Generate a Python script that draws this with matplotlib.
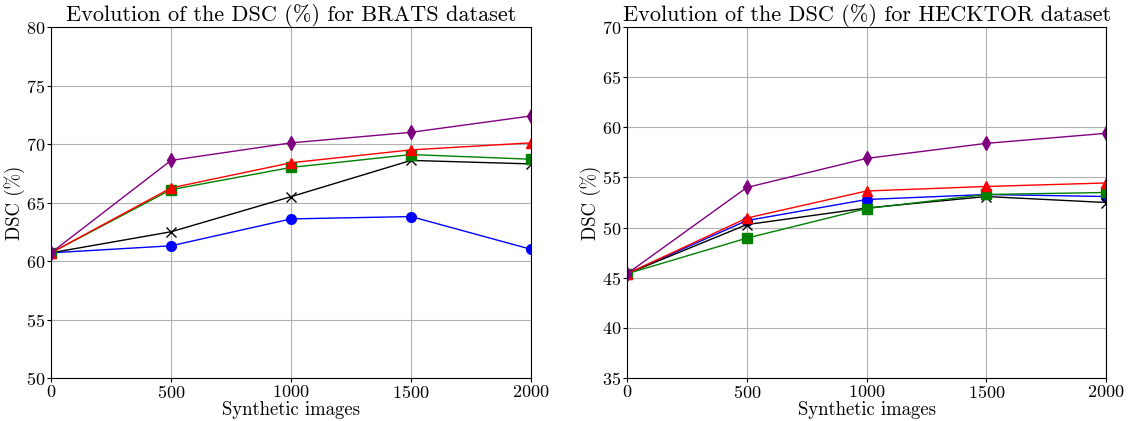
import matplotlib
matplotlib.use("Agg")
import matplotlib.pyplot as plt

plt.rcParams['font.family'] = 'serif'
plt.rcParams['font.serif'] = ['cmr10']
plt.rcParams['mathtext.fontset'] = 'cm'
plt.rcParams['axes.formatter.use_mathtext'] = True

x_vals = [0, 500, 1000, 1500, 2000]

brats_blue = [60.7, 61.3, 63.6, 63.8, 61.0]
brats_black = [60.7, 62.5, 65.5, 68.6, 68.3]
brats_green = [60.7, 66.1, 68.0, 69.1, 68.7]
brats_red = [60.7, 66.25, 68.4, 69.5, 70.1]
brats_purple = [60.7, 68.6, 70.1, 71.0, 72.4]

heck_blue = [45.4, 50.7, 52.8, 53.3, 53.1]
heck_black = [45.4, 50.3, 51.95, 53.1, 52.5]
heck_green = [45.4, 48.95, 51.9, 53.3, 53.5]
heck_red = [45.4, 50.95, 53.65, 54.1, 54.45]
heck_purple = [45.4, 54.0, 56.9, 58.4, 59.4]

titles = ["Evolution of the DSC (%) for BRATS dataset",
          "Evolution of the DSC (%) for HECKTOR dataset"]
ylims = [(50, 80), (35, 70)]

fig = plt.figure(figsize=(11.29, 4.21), dpi=100)
ax1 = fig.add_axes([0.0452, 0.1021, 0.4252, 0.8337])
ax2 = fig.add_axes([0.5554, 0.1021, 0.4243, 0.8337])

datasets = [
    (brats_blue, brats_black, brats_green, brats_red, brats_purple),
    (heck_blue, heck_black, heck_green, heck_red, heck_purple),
]

for ax, data, title, yl in zip([ax1, ax2], datasets, titles, ylims):
    blue, black, green, red, purple = data
    ax.plot(x_vals, blue, color='blue', marker='o', markersize=7, lw=1)
    ax.plot(x_vals, black, color='black', marker='x', markersize=7, lw=1)
    ax.plot(x_vals, green, color='green', marker='s', markersize=7, lw=1)
    ax.plot(x_vals, red, color='red', marker='^', markersize=7, lw=1)
    ax.plot(x_vals, purple, color='purple', marker='d', markersize=7.5, lw=1)
    ax.set_xlim(0, 2000)
    ax.set_ylim(*yl)
    ax.set_xticks(x_vals)
    ax.set_yticks(range(yl[0], yl[1] + 1, 5))
    ax.grid(True, color='#b0b0b0', lw=0.8)
    ax.set_axisbelow(True)
    ax.set_title(title, fontsize=16, pad=3)
    ax.set_xlabel("Synthetic images", fontsize=13.5, labelpad=0)
    ax.set_ylabel("DSC (%)", fontsize=13.5, labelpad=1)
    ax.tick_params(labelsize=13, length=3, pad=1)

fig.savefig("out.png", dpi=100)
